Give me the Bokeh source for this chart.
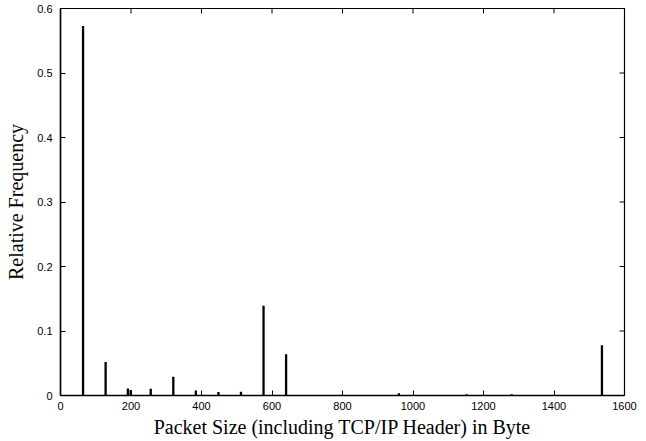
import math
from bokeh.plotting import figure
from bokeh.models import FixedTicker, ColumnDataSource, Range1d
from bokeh.embed import file_html
from bokeh.resources import INLINE

# Packet size distribution (bytes, including TCP/IP header)
packet_sizes = [64, 128, 191, 199, 256, 320, 384, 448, 512, 576, 640, 960, 1152, 1280, 1536]
rel_freq = [0.573, 0.052, 0.011, 0.0085, 0.0105, 0.029, 0.0078, 0.0055, 0.0057,
            0.139, 0.064, 0.0035, 0.002, 0.002, 0.078]

x_ticks = [0, 200, 400, 600, 800, 1000, 1200, 1400, 1600]
y_ticks = [0, 0.1, 0.2, 0.3, 0.4, 0.5, 0.6]
y_tick_labels = ["0", "0.1", "0.2", "0.3", "0.4", "0.5", "0.6"]

x_min, x_max = 0, 1600
y_min, y_max = 0, 0.6

src = ColumnDataSource(dict(x=packet_sizes, y=rel_freq))

p = figure(width=646, height=441, output_backend="svg", toolbar_location=None,
           x_range=Range1d(x_min, x_max), y_range=Range1d(y_min, y_max),
           min_border_left=60, min_border_right=22, min_border_top=8, min_border_bottom=46)

p.vbar(x="x", top="y", width=6.5, bottom=0, source=src, color="black", line_width=0)

p.grid.visible = False
p.outline_line_color = "black"
p.outline_line_width = 1.2
p.background_fill_color = "white"
p.border_fill_color = "white"

tick_font = "Liberation Sans"
label_font = "Liberation Serif"

for ax in (p.xaxis[0], p.yaxis[0]):
    ax.major_tick_in = 5
    ax.major_tick_out = 0
    ax.minor_tick_in = 0
    ax.minor_tick_out = 0
    ax.axis_line_color = "black"
    ax.axis_line_width = 1.5
    ax.major_tick_line_color = "black"
    ax.major_tick_line_width = 1
    ax.major_label_text_font = tick_font
    ax.major_label_text_font_size = "11px"
    ax.major_label_text_color = "black"
    ax.axis_label_text_font = label_font
    ax.axis_label_text_font_size = "20px"
    ax.axis_label_text_font_style = "normal"
    ax.axis_label_text_color = "black"

p.xaxis[0].ticker = FixedTicker(ticks=x_ticks)
p.yaxis[0].ticker = FixedTicker(ticks=y_ticks)
p.yaxis[0].major_label_overrides = dict(zip(y_ticks, y_tick_labels))
p.xaxis[0].axis_label = "Packet Size (including TCP/IP Header) in Byte"
p.yaxis[0].axis_label = "Relative Frequency"
p.xaxis[0].major_label_standoff = 6
p.yaxis[0].major_label_standoff = 8
p.xaxis[0].axis_label_standoff = 3
p.yaxis[0].axis_label_standoff = 7

# Mirrored inward ticks on the top and right edges (half of each dash is clipped by the frame)
p.scatter(x=x_ticks, y=[y_max] * len(x_ticks), marker="dash", size=10,
          angle=math.pi / 2, line_color="black", line_width=1)
p.scatter(x=[x_max] * len(y_ticks), y=y_ticks, marker="dash", size=10,
          line_color="black", line_width=1)

open("out.html", "w").write(file_html(p, INLINE))
